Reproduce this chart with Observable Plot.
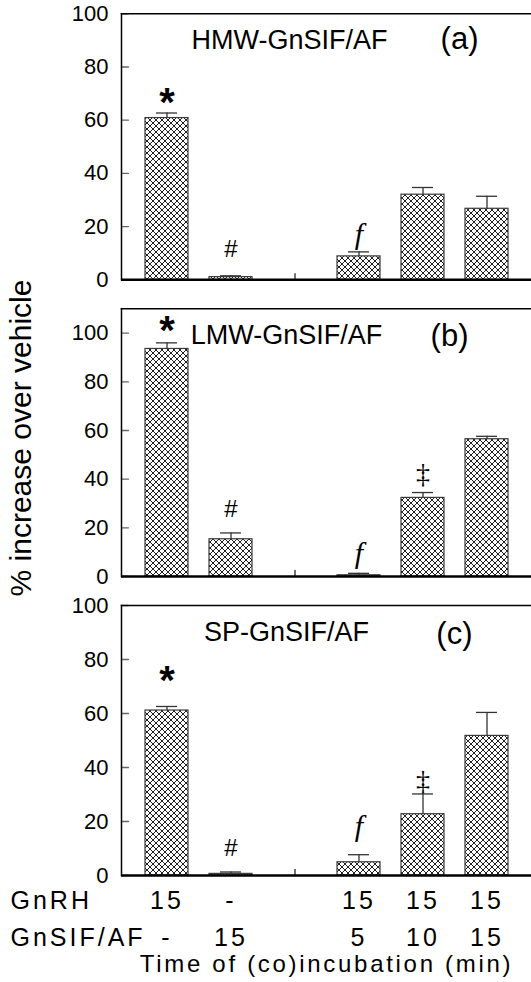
<!DOCTYPE html>
<html><head><meta charset="utf-8">
<script src="https://cdn.jsdelivr.net/npm/d3@7"></script>
<script src="https://cdn.jsdelivr.net/npm/@observablehq/plot@0.6"></script>
<style>
body{margin:0;background:#fff;}
#chart{position:relative;width:531px;height:982px;overflow:hidden;background:#fff;font-family:"Liberation Sans",Arial,sans-serif;}
#chart svg{position:absolute;left:0;overflow:visible;}
#ylabel{position:absolute;left:21px;top:438px;transform:translate(-50%,-50%) rotate(-90deg);font-size:30px;white-space:nowrap;color:#000;z-index:2;}
</style></head><body>
<div id="chart"><div id="ylabel">% increase over vehicle</div></div>
<script>
// ---- data ----
const categories = ["GnRH 15", "GnSIF/AF 15", "gap", "15 + 5", "15 + 10", "15 + 15"];
const gnrhRow = ["15", "-", "", "15", "15", "15"];
const gnsifRow = ["-", "15", "", "5", "10", "15"];
const yTicks = [0, 20, 40, 60, 80, 100];

const hmwMean  = [60.8, 1.0, null, 8.8, 32.0, 26.7];
const hmwErr   = [1.9, 0.5, null, 1.7, 2.7, 4.7];
const hmwMarks = ["*", "#", "", "f", "", ""];
const hmwMarkY = [70.2, 11.6, null, 17.2, null, null];

const lmwMean  = [93.5, 15.3, null, 0.5, 32.3, 56.4];
const lmwErr   = [2.5, 2.6, null, 0.8, 2.2, 1.2];
const lmwMarks = ["*", "#", "", "f", "‡", ""];
const lmwMarkY = [104.9, 27.7, null, 9.4, 41.9, null];

const spMean   = [61.1, 0.6, null, 4.9, 22.7, 51.7];
const spErr    = [1.5, 0.7, null, 2.8, 7.5, 8.7];
const spMarks  = ["*", "#", "", "f", "‡", ""];
const spMarkY  = [75.8, 9.9, null, 18.2, 34.9, null];

const panels = [
  {title: "HMW-GnSIF/AF", tag: "(a)", mean: hmwMean, err: hmwErr, marks: hmwMarks, markY: hmwMarkY, yMax: 100},
  {title: "LMW-GnSIF/AF", tag: "(b)", mean: lmwMean, err: lmwErr, marks: lmwMarks, markY: lmwMarkY, yMax: 110},
  {title: "SP-GnSIF/AF",  tag: "(c)", mean: spMean,  err: spErr,  marks: spMarks,  markY: spMarkY,  yMax: 100}
];
// layout per panel
const layout = [
  {top: 0,   height: 290, marginTop: 13.3, marginBottom: 10.7, titleDx: -37, titleDy: 35,   tagDx: -53, tagDy: 35.2},
  {top: 290, height: 295, marginTop: 18.3, marginBottom: 9,    titleDx: -40, titleDy: 34.7, tagDx: -63, tagDy: 36.7},
  {top: 585, height: 397, marginTop: 20,   marginBottom: 107,  titleDx: -40, titleDy: 35,   tagDx: -59, tagDy: 38.5}
];

const tickShape = {draw(context, l) { context.moveTo(0, 0); context.lineTo(0, -l); }};
const serif = "Liberation Serif, Times New Roman, serif";
const rowsFont = "Liberation Sans, Arial, rows";
const titleFont = "Liberation Sans, Arial, xtitle";

function makePanel(p, L, isLast) {
  const data = categories.map((c, i) => ({cat: c, mean: p.mean[i], err: p.err[i], mark: p.marks[i], markY: p.markY[i], gnrh: gnrhRow[i], gnsif: gnsifRow[i]}));
  const bars = data.filter(d => d.mean != null);
  const marks = [
    Plot.barY(bars, {x: "cat", y: "mean", fill: "url(#xhatch)", stroke: "#3a3a3a", strokeWidth: 1.2}),
    Plot.ruleX(bars, {x: "cat", y1: "mean", y2: d => d.mean + d.err, stroke: "#333", strokeWidth: 1.3}),
    Plot.tickY(bars, {x: "cat", y: d => d.mean + d.err, insetLeft: 11, insetRight: 11, stroke: "#333", strokeWidth: 1.3}),
    Plot.axisY(yTicks, {tickSize: 0, tickPadding: 13, fontSize: 22, fill: "#000", label: null}),
    Plot.vector(yTicks, {y: d => d, frameAnchor: "left", rotate: 90, length: 7, anchor: "start", shape: tickShape, stroke: "#666", strokeWidth: 1.3}),
    Plot.vector(["gap"], {x: d => d, frameAnchor: "bottom", length: 6, anchor: "start", shape: tickShape, stroke: "#444", strokeWidth: 1.5}),
    Plot.frame({anchor: "top", stroke: "#000", strokeWidth: 1.5}),
    Plot.frame({anchor: "left", stroke: "#000", strokeWidth: 1.5}),
    Plot.ruleY([0], {stroke: "#000", strokeWidth: 2.5}),
    Plot.text([p.title], {text: d => d, frameAnchor: "top", dx: L.titleDx, dy: L.titleDy, lineAnchor: "bottom", fontSize: 27, fill: "#000"}),
    Plot.text([p.tag], {text: d => d, frameAnchor: "top-right", dx: L.tagDx, dy: L.tagDy, lineAnchor: "bottom", fontSize: 31, fill: "#000"}),
    Plot.text(data.filter(d => d.mark === "*"), {x: "cat", y: "markY", text: "mark", fontSize: 40, fontWeight: "bold", dy: 10, lineAnchor: "middle", fill: "#000"}),
    Plot.text(data.filter(d => d.mark === "#"), {x: "cat", y: "markY", text: "mark", fontSize: 24, lineAnchor: "middle", fill: "#000"}),
    Plot.text(data.filter(d => d.mark === "‡"), {x: "cat", y: "markY", text: "mark", fontSize: 28, fontFamily: serif, lineAnchor: "middle", fill: "#000"}),
    Plot.text(data.filter(d => d.mark === "f"), {x: "cat", y: "markY", text: "mark", fontSize: 30, fontFamily: serif, fontStyle: "italic", lineAnchor: "middle", fill: "#000"})
  ];
  if (isLast) {
    marks.push(
      Plot.text(data.filter(d => d.gnrh), {x: "cat", text: "gnrh", frameAnchor: "bottom", dy: 33, lineAnchor: "bottom", fontSize: 25, fontFamily: rowsFont, fill: "#000"}),
      Plot.text(data.filter(d => d.gnsif), {x: "cat", text: "gnsif", frameAnchor: "bottom", dy: 70, lineAnchor: "bottom", fontSize: 25, fontFamily: rowsFont, fill: "#000"}),
      Plot.text(["GnRH"], {text: d => d, frameAnchor: "bottom-left", dx: -111, dy: 33, textAnchor: "start", lineAnchor: "bottom", fontSize: 25, fontFamily: rowsFont, fill: "#000"}),
      Plot.text(["GnSIF/AF"], {text: d => d, frameAnchor: "bottom-left", dx: -111, dy: 70, textAnchor: "start", lineAnchor: "bottom", fontSize: 25, fontFamily: rowsFont, fill: "#000"}),
      Plot.text(["Time of (co)incubation (min)"], {text: d => d, frameAnchor: "bottom", dy: 96, lineAnchor: "bottom", fontSize: 24, fontFamily: titleFont, fill: "#000"})
    );
  }
  const svg = Plot.plot({
    width: 531, height: L.height,
    marginLeft: 121, marginRight: 0, marginTop: L.marginTop, marginBottom: L.marginBottom,
    x: {domain: categories, type: "band", padding: 0.33, axis: null},
    y: {domain: [0, p.yMax], axis: null},
    style: {fontFamily: "Liberation Sans, Arial, sans-serif", background: "transparent", color: "#000"},
    marks
  });
  const sel = d3.select(svg);
  sel.selectAll("[font-family]").filter(function() { return this.getAttribute("font-family") === rowsFont; }).style("letter-spacing", "3px");
  sel.selectAll("[font-family]").filter(function() { return this.getAttribute("font-family") === titleFont; }).style("letter-spacing", "2.7px");
  const defs = sel.insert("defs", ":first-child");
  const pat = defs.append("pattern").attr("id", "xhatch").attr("patternUnits", "userSpaceOnUse").attr("width", 6).attr("height", 6);
  pat.append("rect").attr("width", 6).attr("height", 6).attr("fill", "#fff");
  pat.append("path").attr("d", "M0,0L6,6M6,0L0,6M-1,1L1,-1M5,7L7,5").attr("stroke", "#222").attr("stroke-width", 1);
  svg.style.top = L.top + "px";
  document.getElementById("chart").appendChild(svg);
}
panels.forEach((p, i) => makePanel(p, layout[i], i === panels.length - 1));
</script>
</body></html>
